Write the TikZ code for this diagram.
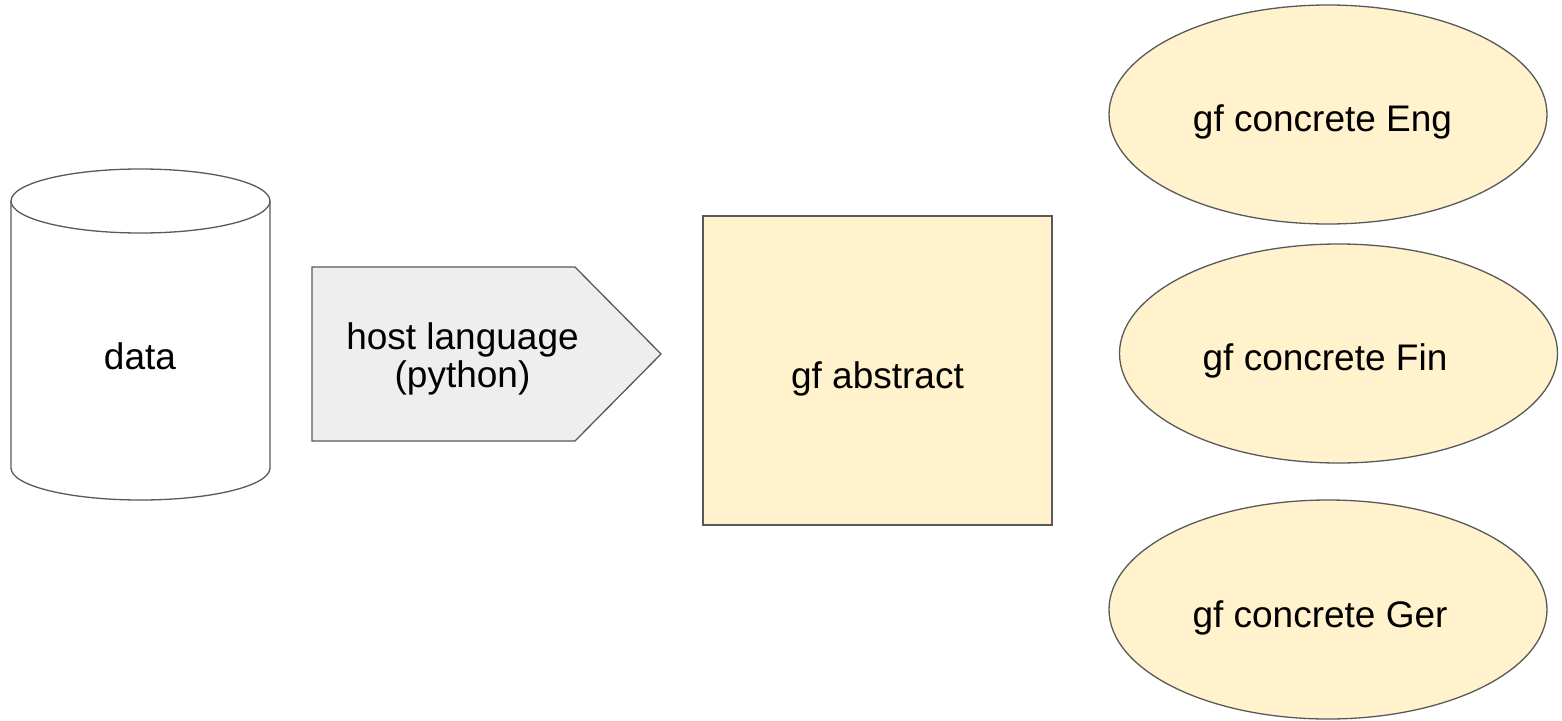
\documentclass[tikz,border=0pt]{standalone}
\usepackage{fontspec}
\setmainfont{Liberation Sans}
\usetikzlibrary{shapes.geometric}
\definecolor{edgegray}{HTML}{595959}
\definecolor{paleyellow}{HTML}{FFF2CC}
\definecolor{palegray}{HTML}{EEEEEE}
\tikzset{
  outline/.style={draw=edgegray, line width=1.3pt},
  label text/.style={font=\fontsize{37}{38}\selectfont, text=black, align=center, inner sep=0pt},
  concrete/.style={ellipse, outline, fill=paleyellow, minimum width=438pt, minimum height=219pt, inner sep=0pt},
}
\begin{document}
\begin{tikzpicture}[x=1pt, y=-1pt]
  \useasboundingbox (0,0) rectangle (1562,720);

  % data store drawn as an upright cylinder (y axis points down here)
  \fill[white] (11,201) -- (11,468) arc[start angle=180, end angle=0, x radius=129.5, y radius=32]
       -- (270,201) arc[start angle=0, end angle=-180, x radius=129.5, y radius=32] -- cycle;
  \draw[outline] (11,201) -- (11,468) arc[start angle=180, end angle=0, x radius=129.5, y radius=32] -- (270,201);
  \draw[outline] (140.5,201) ellipse[x radius=129.5, y radius=32];
  \node[label text] (data) at (140,356) {data};

  % host language stage as a pentagon arrow
  \coordinate (hl-nw) at (312,267);
  \coordinate (hl-ne) at (575,267);
  \coordinate (hl-tip) at (661,354);
  \coordinate (hl-se) at (575,441);
  \coordinate (hl-sw) at (312,441);
  \draw[outline, fill=palegray, line join=miter] (hl-nw) -- (hl-ne) -- (hl-tip) -- (hl-se) -- (hl-sw) -- cycle;
  \node[label text] (host) at (462.5,359) {host language\\(python)};

  % abstract grammar
  \node[outline, fill=paleyellow, minimum width=349pt, minimum height=309pt, inner sep=0pt]
       (abstract) at (877.5,370.5) {};
  \node[label text] (abstract-label) at (877.5,378.5) {gf abstract};

  % concrete grammars
  \node[concrete] (eng) at (1328,114.5) {};
  \node[concrete] (fin) at (1338.5,353.5) {};
  \node[concrete] (ger) at (1328,609.5) {};
  \node[label text] (eng-label) at (1322.5,121.5) {gf concrete Eng};
  \node[label text] (fin-label) at (1325,360.5) {gf concrete Fin};
  \node[label text] (ger-label) at (1320,617.5) {gf concrete Ger};
\end{tikzpicture}
\end{document}
